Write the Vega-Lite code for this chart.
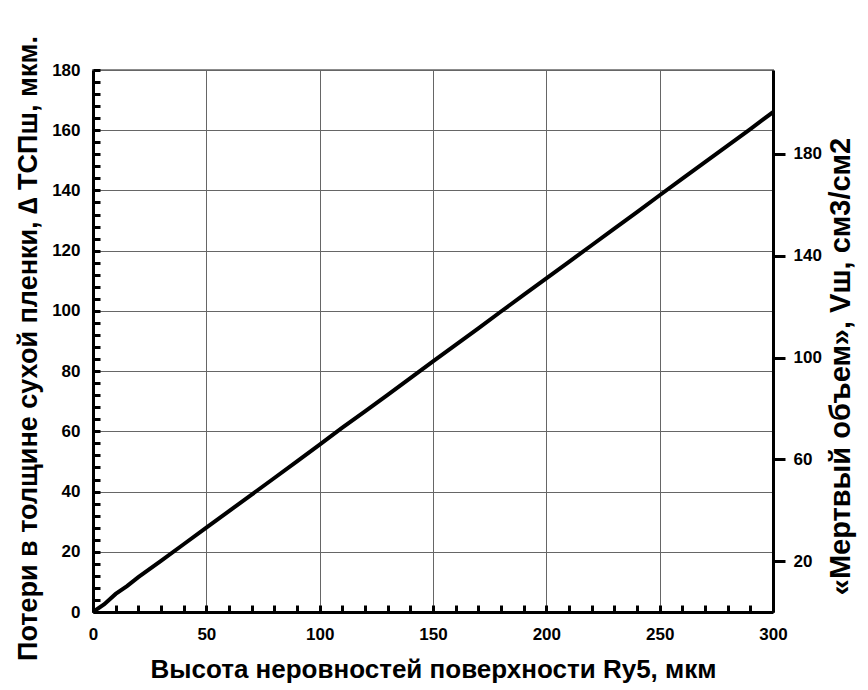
{
  "$schema": "https://vega.github.io/schema/vega-lite/v6.json",
  "autosize": "none",
  "width": 680,
  "height": 542,
  "padding": {"left": 93, "top": 70, "right": 95, "bottom": 78},
  "background": "white",
  "config": {
    "font": "Liberation Sans",
    "view": {"stroke": "#8c8c8c", "strokeWidth": 2},
    "axis": {"labelFont": "Liberation Sans", "titleFont": "Liberation Sans", "labelColor": "black", "titleColor": "black"}
  },
  "data": {"values": [
    {"ry5": 0, "loss": 0},
    {"ry5": 5, "loss": 2.6},
    {"ry5": 10, "loss": 6.0},
    {"ry5": 15, "loss": 8.6},
    {"ry5": 20, "loss": 11.6},
    {"ry5": 30, "loss": 17.0},
    {"ry5": 40, "loss": 22.5},
    {"ry5": 50, "loss": 28.0},
    {"ry5": 60, "loss": 33.5},
    {"ry5": 70, "loss": 39.0},
    {"ry5": 80, "loss": 44.5},
    {"ry5": 90, "loss": 50.0},
    {"ry5": 100, "loss": 55.6},
    {"ry5": 110, "loss": 61.2},
    {"ry5": 120, "loss": 66.6},
    {"ry5": 130, "loss": 72.1},
    {"ry5": 140, "loss": 77.7},
    {"ry5": 150, "loss": 83.2},
    {"ry5": 160, "loss": 88.7},
    {"ry5": 170, "loss": 94.2},
    {"ry5": 180, "loss": 99.8},
    {"ry5": 190, "loss": 105.3},
    {"ry5": 200, "loss": 110.8},
    {"ry5": 210, "loss": 116.3},
    {"ry5": 220, "loss": 121.8},
    {"ry5": 230, "loss": 127.3},
    {"ry5": 240, "loss": 132.8},
    {"ry5": 250, "loss": 138.4},
    {"ry5": 260, "loss": 143.9},
    {"ry5": 270, "loss": 149.4},
    {"ry5": 280, "loss": 154.9},
    {"ry5": 290, "loss": 160.4},
    {"ry5": 300, "loss": 166.0}
  ]},
  "layer": [
    {
      "mark": {"type": "line", "color": "black", "strokeWidth": 4, "clip": true},
      "encoding": {
        "x": {"field": "ry5", "type": "quantitative",
          "scale": {"domain": [0, 300], "nice": false, "zero": false},
          "axis": {"orient": "bottom",
            "values": [0,10,20,30,40,50,60,70,80,90,100,110,120,130,140,150,160,170,180,190,200,210,220,230,240,250,260,270,280,290,300],
            "labelExpr": "datum.value % 50 === 0 ? datum.label : ''",
            "grid": true, "gridColor": "#666", "gridWidth": 1,
            "gridOpacity": {"condition": {"test": "datum.value % 50 === 0", "value": 1}, "value": 0},
            "ticks": true, "tickSize": -7, "tickWidth": 3, "tickColor": "black",
            "domain": true, "domainColor": "black", "domainWidth": 3,
            "labelFontSize": 17, "labelFontWeight": "bold", "labelPadding": 21, "labelFlush": false,
            "title": "Высота неровностей поверхности Ry5, мкм", "titleFontSize": 26, "titleFontWeight": "bold", "titlePadding": 14}},
        "y": {"field": "loss", "type": "quantitative",
          "scale": {"domain": [0, 180], "nice": false, "zero": false},
          "axis": {"orient": "left",
            "values": [0,4,8,12,16,20,24,28,32,36,40,44,48,52,56,60,64,68,72,76,80,84,88,92,96,100,104,108,112,116,120,124,128,132,136,140,144,148,152,156,160,164,168,172,176,180],
            "labelExpr": "datum.value % 20 === 0 ? datum.label : ''",
            "grid": true, "gridColor": "#666", "gridWidth": 1,
            "gridOpacity": {"condition": {"test": "datum.value % 20 === 0", "value": 1}, "value": 0},
            "ticks": true, "tickSize": -7, "tickWidth": 3, "tickColor": "black",
            "domain": true, "domainColor": "black", "domainWidth": 3,
            "labelFontSize": 17, "labelFontWeight": "bold", "labelPadding": 20, "labelFlush": false,
            "title": "Потери в толщине сухой пленки, ∆ ТСПш, мкм.", "titleFontSize": 27, "titleFontWeight": "bold", "titlePadding": 9, "titleY": 278}}
      }
    },
    {
      "mark": {"type": "line", "opacity": 0},
      "encoding": {
        "x": {"field": "ry5", "type": "quantitative", "scale": {"domain": [0, 300], "nice": false, "zero": false}, "axis": null},
        "y": {"field": "loss", "type": "quantitative",
          "scale": {"domain": [0, 213], "nice": false, "zero": false},
          "axis": {"orient": "right", "values": [20, 60, 100, 140, 180], "grid": false,
            "ticks": true, "tickSize": 12, "tickWidth": 3, "tickColor": "black",
            "domain": true, "domainColor": "black", "domainWidth": 3,
            "labelFontSize": 17, "labelFontWeight": "bold", "labelPadding": 8,
            "title": "«Мертвый объем», Vш, см3/см2", "titleFontSize": 29, "titleFontWeight": "bold", "titleAngle": 270, "titleBaseline": "top", "titlePadding": 5, "titleY": 296}}
      }
    }
  ],
  "resolve": {"scale": {"x": "independent", "y": "independent"}, "axis": {"x": "independent", "y": "independent"}}
}
